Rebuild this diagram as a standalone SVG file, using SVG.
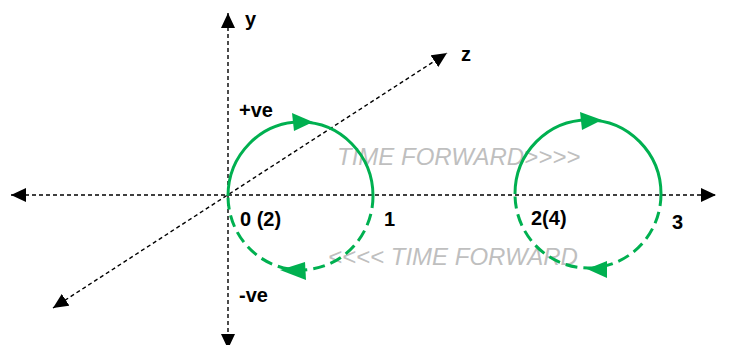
<svg xmlns="http://www.w3.org/2000/svg" width="731" height="345" viewBox="0 0 731 345">
  <style>
    .axis { fill: none; stroke: #000; stroke-width: 1.4; stroke-dasharray: 4 3; }
    .solid { fill: none; stroke: #00b050; stroke-width: 3; }
    .dashed { fill: none; stroke: #00b050; stroke-width: 3; stroke-dasharray: 12 6; }
    .garrow { fill: #00b050; }
    .lbl { font-family: "Liberation Sans", Arial, sans-serif; font-weight: bold; font-size: 20px; fill: #000; }
    .time { font-family: "Liberation Sans", Arial, sans-serif; font-style: italic; font-size: 24px; fill: #bfbfbf; }
  </style>
  <defs>
    <marker id="ah" viewBox="0 0 15 14" refX="15" refY="7" markerWidth="15" markerHeight="14" markerUnits="userSpaceOnUse" orient="auto-start-reverse">
      <path d="M0,0 L15,7 L0,14 z" fill="#000"/>
    </marker>
  </defs>
  <rect width="731" height="345" fill="#fff"/>
  <g id="connectors">
    <line id="y-axis" class="axis" x1="228" y1="13" x2="228" y2="349" marker-start="url(#ah)" marker-end="url(#ah)"/>
    <line id="x-axis" class="axis" x1="11" y1="195" x2="716" y2="195" marker-start="url(#ah)" marker-end="url(#ah)"/>
    <line id="z-axis" class="axis" x1="53" y1="308" x2="447" y2="53" marker-start="url(#ah)" marker-end="url(#ah)"/>
  </g>
  <g id="time-labels">
    <text class="time" x="337" y="165">TIME FORWARD&gt;&gt;&gt;&gt;</text>
    <text class="time" x="328" y="265">&lt;&lt;&lt;&lt; TIME FORWARD</text>
  </g>
  <g id="circle1">
    <path class="solid" d="M228,196 A72.5,74 0 0 1 373,196"/>
    <path class="dashed" d="M373,196 A72.5,74 0 0 1 228,196"/>
    <polygon class="garrow" points="292,113 313,122 294,131"/>
    <polygon class="garrow" points="305,262 280,270 306,280"/>
  </g>
  <g id="circle2">
    <path class="solid" d="M515,194 A73,74 0 0 1 661,194"/>
    <path class="dashed" d="M661,194 A73,74 0 0 1 515,194"/>
    <polygon class="garrow" points="580,112 602,120 582,130"/>
    <polygon class="garrow" points="607,261 587,269 607,278"/>
  </g>
  <g id="labels">
    <text class="lbl" x="245" y="26">y</text>
    <text class="lbl" x="461" y="61">z</text>
    <text class="lbl" x="239" y="117">+ve</text>
    <text class="lbl" x="239" y="302">-ve</text>
    <text class="lbl" x="240" y="226">0 (2)</text>
    <text class="lbl" x="384" y="226">1</text>
    <text class="lbl" x="531" y="225">2(4)</text>
    <text class="lbl" x="672" y="229">3</text>
  </g>
</svg>
